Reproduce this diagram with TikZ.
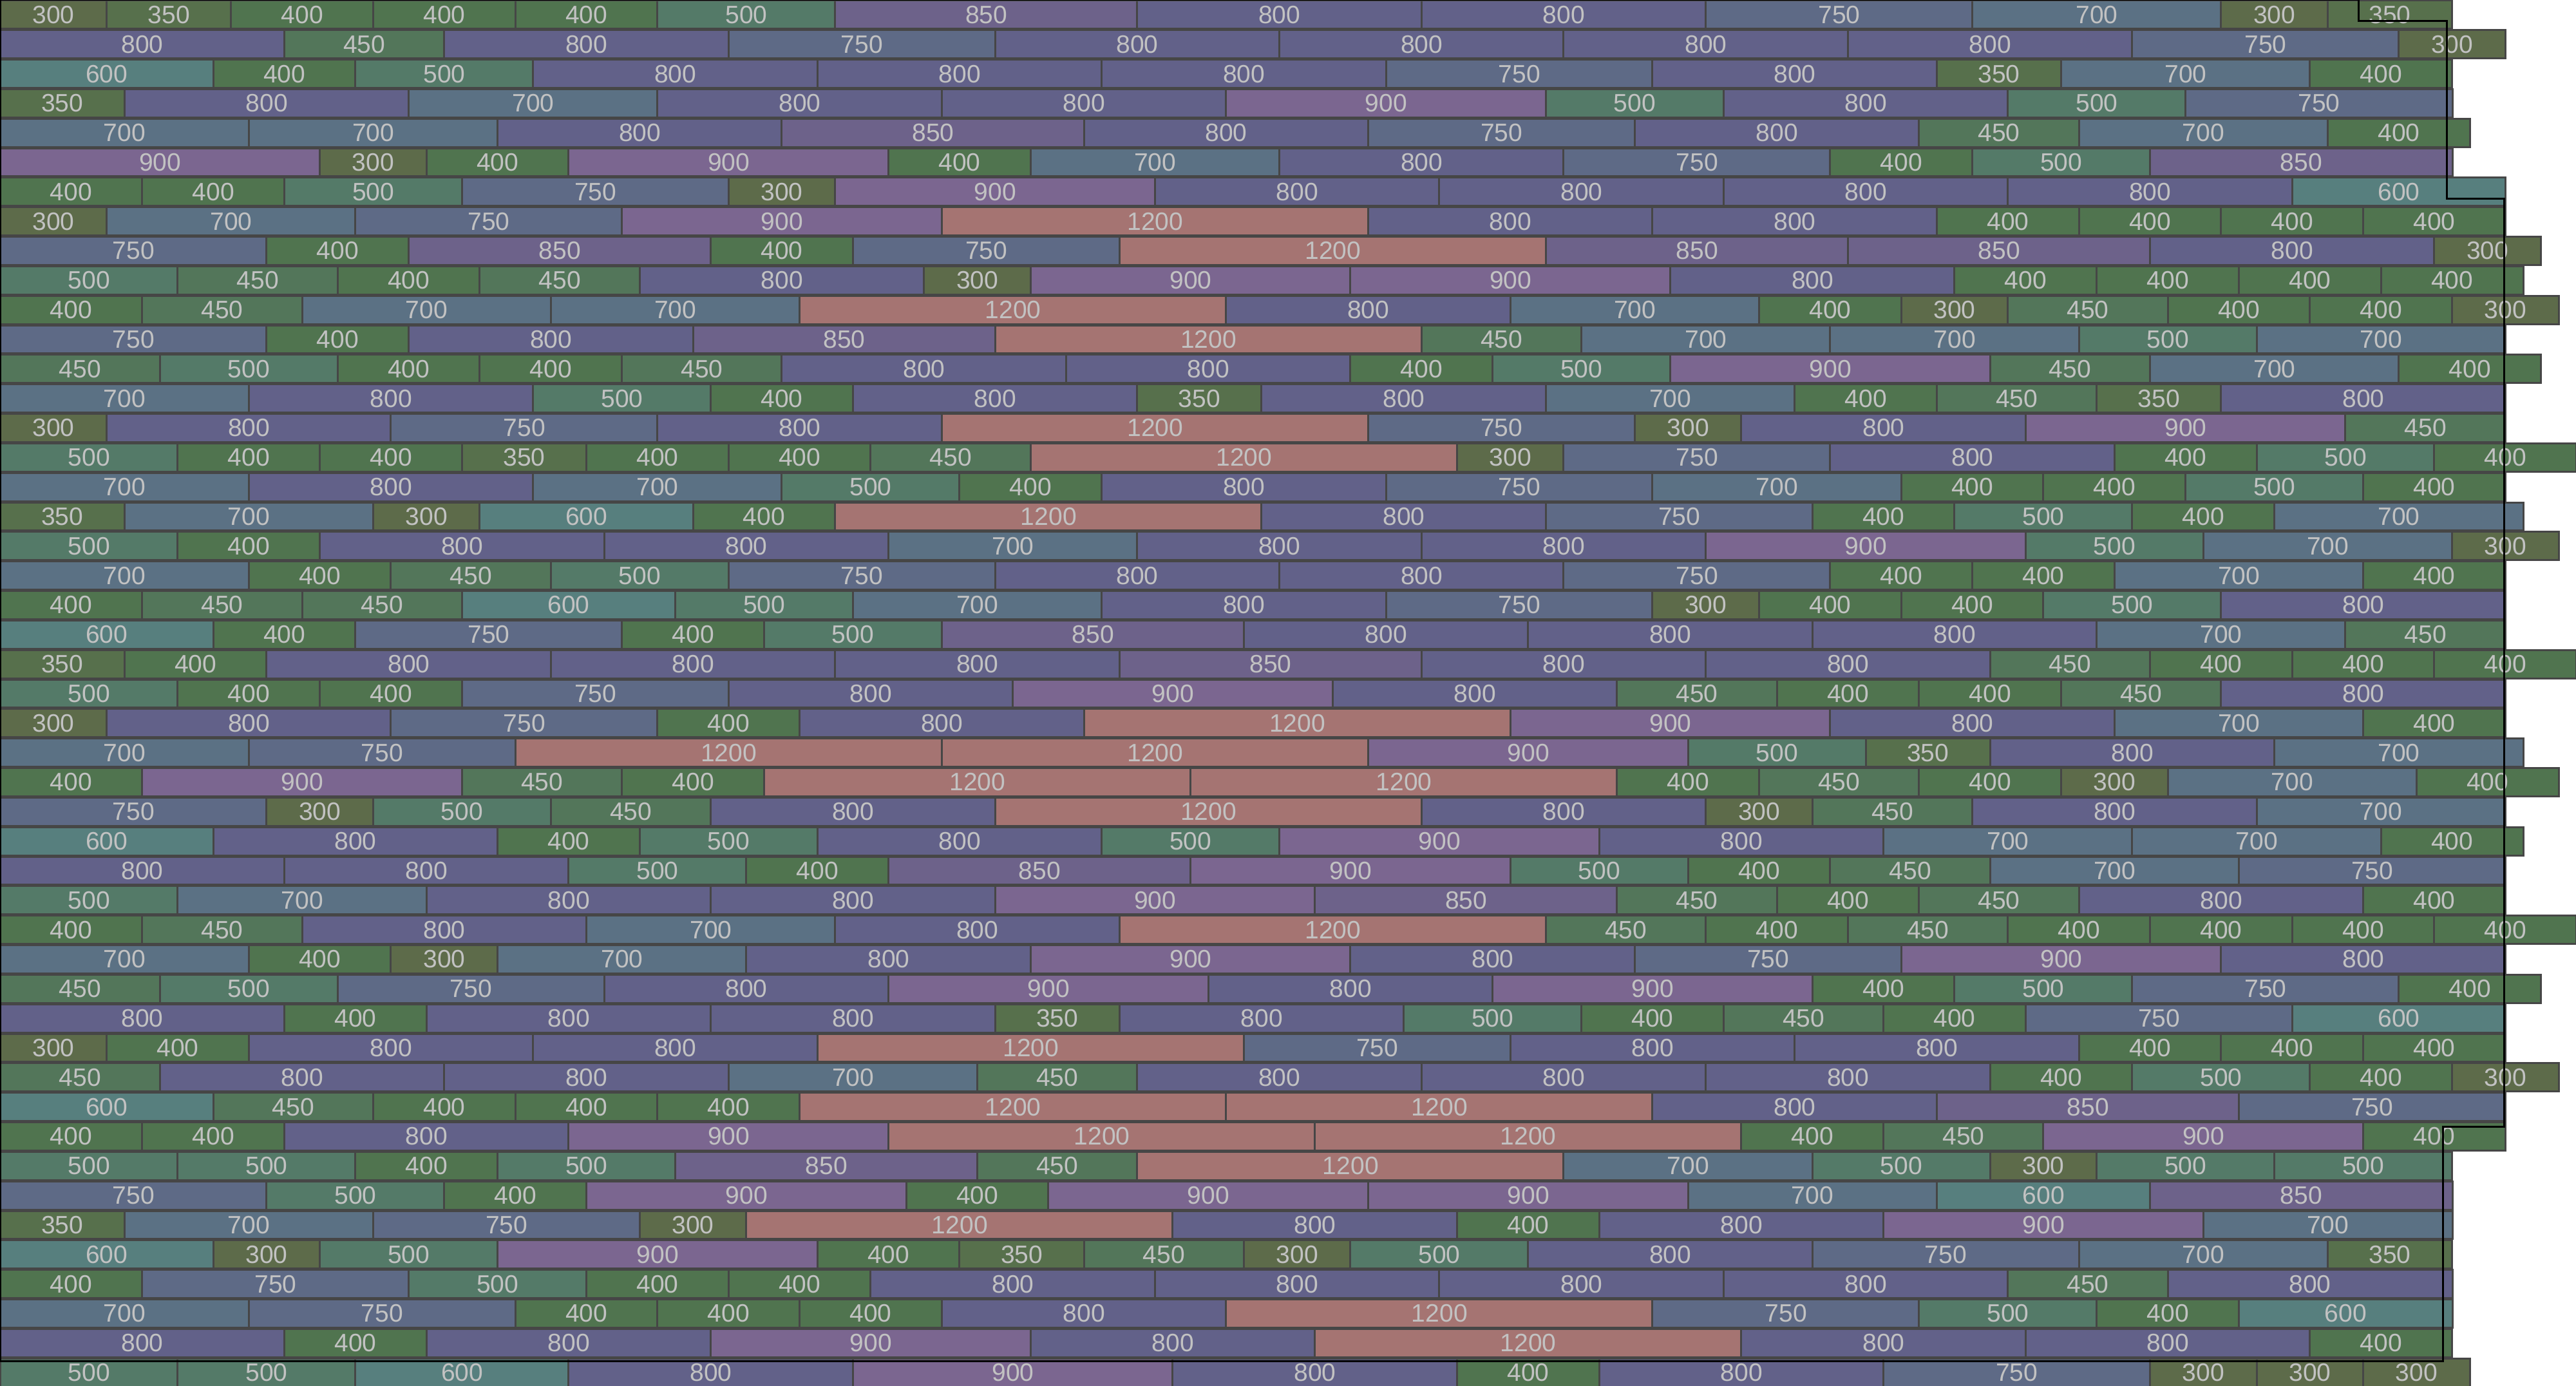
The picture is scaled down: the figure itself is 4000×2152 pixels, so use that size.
\documentclass[tikz,border=0pt]{standalone}
\usepackage{fontspec}
\setmainfont{Liberation Sans}
\usepackage{tikz}
\usepackage{xcolor}
\definecolor{Brick300}{HTML}{5D6B4A}
\definecolor{Brick350}{HTML}{57704C}
\definecolor{Brick400}{HTML}{50744F}
\definecolor{Brick450}{HTML}{53765A}
\definecolor{Brick500}{HTML}{547A68}
\definecolor{Brick600}{HTML}{577F7E}
\definecolor{Brick700}{HTML}{5B7184}
\definecolor{Brick750}{HTML}{5E6A86}
\definecolor{Brick800}{HTML}{626189}
\definecolor{Brick850}{HTML}{6D628A}
\definecolor{Brick900}{HTML}{7B6690}
\definecolor{Brick1200}{HTML}{A57472}
\definecolor{BrickEdge}{HTML}{464646}
\definecolor{BrickText}{HTML}{C2C2C2}
\tikzset{
    % one block of a row, its width set per value
    brick/.style={
        rectangle,
        draw=BrickEdge,
        line width=0.03cm,
        inner sep=0pt,
        outer sep=0pt,
        minimum height=0.438cm,
        anchor=north west,
        text=BrickText,
        font=\fontsize{11.1}{12}\selectfont
    },
    % stepped border round the packing
    skyline/.style={
        draw=black,
        line width=0.03cm
    }
}

\begin{document}
\begin{tikzpicture}[x=0.01cm, y=-0.01cm]
        \useasboundingbox (0,0) rectangle (4000,2152);

        % Rows of blocks, left to right
        \foreach \rowvals [count=\r from 0] in {
            {300,350,400,400,400,500,850,800,800,750,700,300,350},
            {800,450,800,750,800,800,800,800,750,300},
            {600,400,500,800,800,800,750,800,350,700,400},
            {350,800,700,800,800,900,500,800,500,750},
            {700,700,800,850,800,750,800,450,700,400},
            {900,300,400,900,400,700,800,750,400,500,850},
            {400,400,500,750,300,900,800,800,800,800,600},
            {300,700,750,900,1200,800,800,400,400,400,400},
            {750,400,850,400,750,1200,850,850,800,300},
            {500,450,400,450,800,300,900,900,800,400,400,400,400},
            {400,450,700,700,1200,800,700,400,300,450,400,400,300},
            {750,400,800,850,1200,450,700,700,500,700},
            {450,500,400,400,450,800,800,400,500,900,450,700,400},
            {700,800,500,400,800,350,800,700,400,450,350,800},
            {300,800,750,800,1200,750,300,800,900,450},
            {500,400,400,350,400,400,450,1200,300,750,800,400,500,400},
            {700,800,700,500,400,800,750,700,400,400,500,400},
            {350,700,300,600,400,1200,800,750,400,500,400,700},
            {500,400,800,800,700,800,800,900,500,700,300},
            {700,400,450,500,750,800,800,750,400,400,700,400},
            {400,450,450,600,500,700,800,750,300,400,400,500,800},
            {600,400,750,400,500,850,800,800,800,700,450},
            {350,400,800,800,800,850,800,800,450,400,400,400},
            {500,400,400,750,800,900,800,450,400,400,450,800},
            {300,800,750,400,800,1200,900,800,700,400},
            {700,750,1200,1200,900,500,350,800,700},
            {400,900,450,400,1200,1200,400,450,400,300,700,400},
            {750,300,500,450,800,1200,800,300,450,800,700},
            {600,800,400,500,800,500,900,800,700,700,400},
            {800,800,500,400,850,900,500,400,450,700,750},
            {500,700,800,800,900,850,450,400,450,800,400},
            {400,450,800,700,800,1200,450,400,450,400,400,400,400},
            {700,400,300,700,800,900,800,750,900,800},
            {450,500,750,800,900,800,900,400,500,750,400},
            {800,400,800,800,350,800,500,400,450,400,750,600},
            {300,400,800,800,1200,750,800,800,400,400,400},
            {450,800,800,700,450,800,800,800,400,500,400,300},
            {600,450,400,400,400,1200,1200,800,850,750},
            {400,400,800,900,1200,1200,400,450,900,400},
            {500,500,400,500,850,450,1200,700,500,300,500,500},
            {750,500,400,900,400,900,900,700,600,850},
            {350,700,750,300,1200,800,400,800,900,700},
            {600,300,500,900,400,350,450,300,500,800,750,700,350},
            {400,750,500,400,400,800,800,800,800,450,800},
            {700,750,400,400,400,800,1200,750,500,400,600},
            {800,400,800,900,800,1200,800,800,400},
            {500,500,600,800,900,800,400,800,750,300,300,300}} {
            \gdef\cx{0}
            \foreach \v [count=\c] in \rowvals {
                \node[brick, fill=Brick\v, minimum width={0.005518cm*\v}] (b\r-\c) at ({\cx*0.5518}, {\r*45.83+1}) {\v};
                \pgfmathparse{\cx+\v}\xdef\cx{\pgfmathresult}
            }
        }

        % Outline
        \draw[skyline] (0,0) -- (3662,0) -- (3662,33) -- (3799,33) -- (3799,309)
            -- (3888,309) -- (3888,1749) -- (3793,1749) -- (3793,2113) -- (0,2113) -- cycle;
    \end{tikzpicture}
\end{document}
